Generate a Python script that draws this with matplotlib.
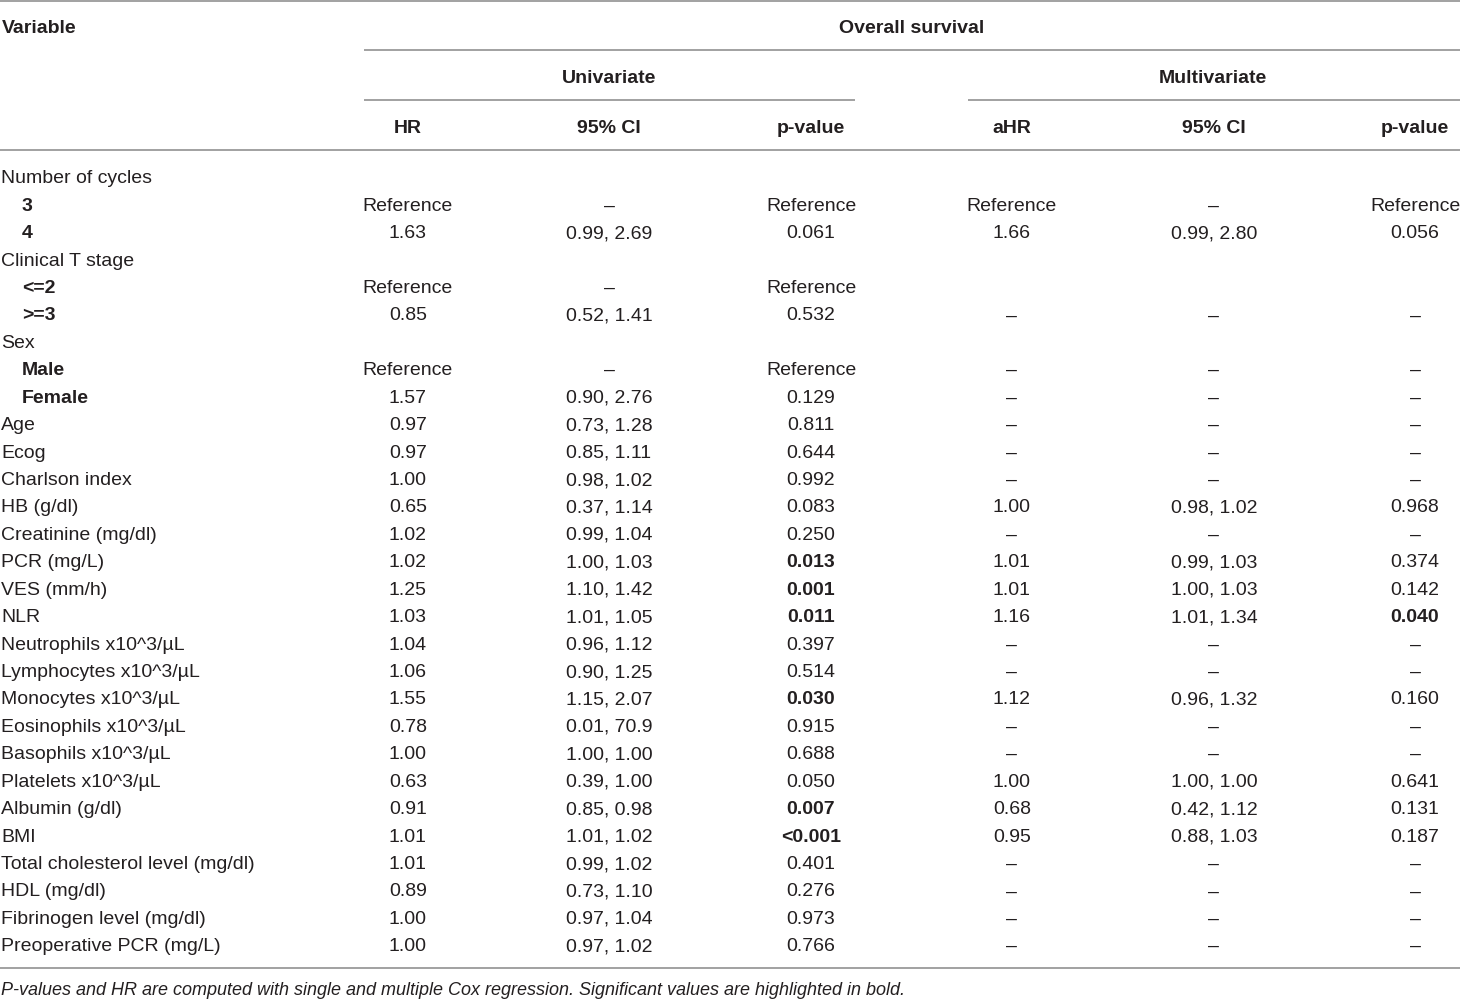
import matplotlib
matplotlib.use("Agg")
import matplotlib.pyplot as plt
from matplotlib import font_manager

names = {f.name for f in font_manager.fontManager.ttflist}
FAM = ["Liberation Sans Narrow", "Liberation Sans", "DejaVu Sans"] if "Liberation Sans Narrow" in names else ["Liberation Sans", "DejaVu Sans"]
plt.rcParams['font.family'] = FAM

D = "\u2013"
variables = ["Number of cycles", "3", "4", "Clinical T stage", "<=2", ">=3", "Sex", "Male", "Female",
             "Age", "Ecog", "Charlson index", "HB (g/dl)", "Creatinine (mg/dl)", "PCR (mg/L)", "VES (mm/h)",
             "NLR", "Neutrophils x10^3/\u00b5L", "Lymphocytes x10^3/\u00b5L", "Monocytes x10^3/\u00b5L",
             "Eosinophils x10^3/\u00b5L", "Basophils x10^3/\u00b5L", "Platelets x10^3/\u00b5L", "Albumin (g/dl)",
             "BMI", "Total cholesterol level (mg/dl)", "HDL (mg/dl)", "Fibrinogen level (mg/dl)",
             "Preoperative PCR (mg/L)"]
sublevel = [0, 1, 1, 0, 1, 1, 0, 1, 1] + [0] * 20
hr = ["", "Reference", "1.63", "", "Reference", "0.85", "", "Reference", "1.57", "0.97", "0.97", "1.00",
      "0.65", "1.02", "1.02", "1.25", "1.03", "1.04", "1.06", "1.55", "0.78", "1.00", "0.63", "0.91",
      "1.01", "1.01", "0.89", "1.00", "1.00"]
ci = ["", D, "0.99, 2.69", "", D, "0.52, 1.41", "", D, "0.90, 2.76", "0.73, 1.28", "0.85, 1.11",
      "0.98, 1.02", "0.37, 1.14", "0.99, 1.04", "1.00, 1.03", "1.10, 1.42", "1.01, 1.05", "0.96, 1.12",
      "0.90, 1.25", "1.15, 2.07", "0.01, 70.9", "1.00, 1.00", "0.39, 1.00", "0.85, 0.98", "1.01, 1.02",
      "0.99, 1.02", "0.73, 1.10", "0.97, 1.04", "0.97, 1.02"]
pval = ["", "Reference", "0.061", "", "Reference", "0.532", "", "Reference", "0.129", "0.811", "0.644",
        "0.992", "0.083", "0.250", "0.013", "0.001", "0.011", "0.397", "0.514", "0.030", "0.915", "0.688",
        "0.050", "0.007", "<0.001", "0.401", "0.276", "0.973", "0.766"]
pval_bold = [False] * 14 + [True, True, True, False, False, True, False, False, False, True, True,
                            False, False, False, False]
ahr = ["", "Reference", "1.66", "", "", D, "", D, D, D, D, D, "1.00", D, "1.01", "1.01", "1.16", D, D,
       "1.12", D, D, "1.00", "0.68", "0.95", D, D, D, D]
aci = ["", D, "0.99, 2.80", "", "", D, "", D, D, D, D, D, "0.98, 1.02", D, "0.99, 1.03", "1.00, 1.03",
       "1.01, 1.34", D, D, "0.96, 1.32", D, D, "1.00, 1.00", "0.42, 1.12", "0.88, 1.03", D, D, D, D]
apval = ["", "Reference", "0.056", "", "", D, "", D, D, D, D, D, "0.968", D, "0.374", "0.142", "0.040",
         D, D, "0.160", D, D, "0.641", "0.131", "0.187", D, D, D, D]
apval_bold = [False] * 16 + [True] + [False] * 12

header_cols = ["HR", "95% CI", "p-value", "aHR", "95% CI", "p-value"]
footnote = ("P-values and HR are computed with single and multiple Cox regression. "
            "Significant values are highlighted in bold.")

W, H = 1460, 999
fig = plt.figure(figsize=(W / 100, H / 100), dpi=100)
ax = fig.add_axes([0, 0, 1, 1])
ax.set_xlim(0, W)
ax.set_ylim(H, 0)
ax.axis("off")

TC = "#231f20"
LC = "#9a9a9a"
FS = 14
OFF = 2.8  # vertical text offset

col_x = [408, 609, 811, 1012, 1214, 1415]

def hline(x0, x1, y):
    ax.plot([x0, x1], [y, y], color=LC, lw=1.3, solid_capstyle="butt")

def txt(x, y, s, **kw):
    ax.text(x, y + OFF, s, va="center", fontsize=kw.pop("fontsize", FS), color=TC, **kw)

hline(0, W, 1)
hline(364, W, 50)
hline(364, 855, 100)
hline(968, W, 100)
hline(0, W, 150)
hline(0, W, 968)

txt(2, 26, "Variable", ha="left", fontweight="bold")
txt(912, 26, "Overall survival", ha="center", fontweight="bold")
txt(609, 76, "Univariate", ha="center", fontweight="bold")
txt(1213, 76, "Multivariate", ha="center", fontweight="bold")
for x, t in zip(col_x, header_cols):
    txt(x, 126, t, ha="center", fontweight="bold")

y0, dy = 176, (944 - 176) / 28
for i, v in enumerate(variables):
    y = y0 + i * dy
    if sublevel[i]:
        txt(22, y, v, ha="left", fontweight="bold")
    else:
        txt(1, y, v, ha="left")
    cells = [(hr[i], False), (ci[i], False), (pval[i], pval_bold[i]),
             (ahr[i], False), (aci[i], False), (apval[i], apval_bold[i])]
    for x, (t, b) in zip(col_x, cells):
        if t:
            txt(x, y, t, ha="center", fontweight="bold" if b else "normal")

txt(1, 988, footnote, ha="left", fontsize=FS - 1, style="italic")

fig.savefig("out.png", dpi=100)
